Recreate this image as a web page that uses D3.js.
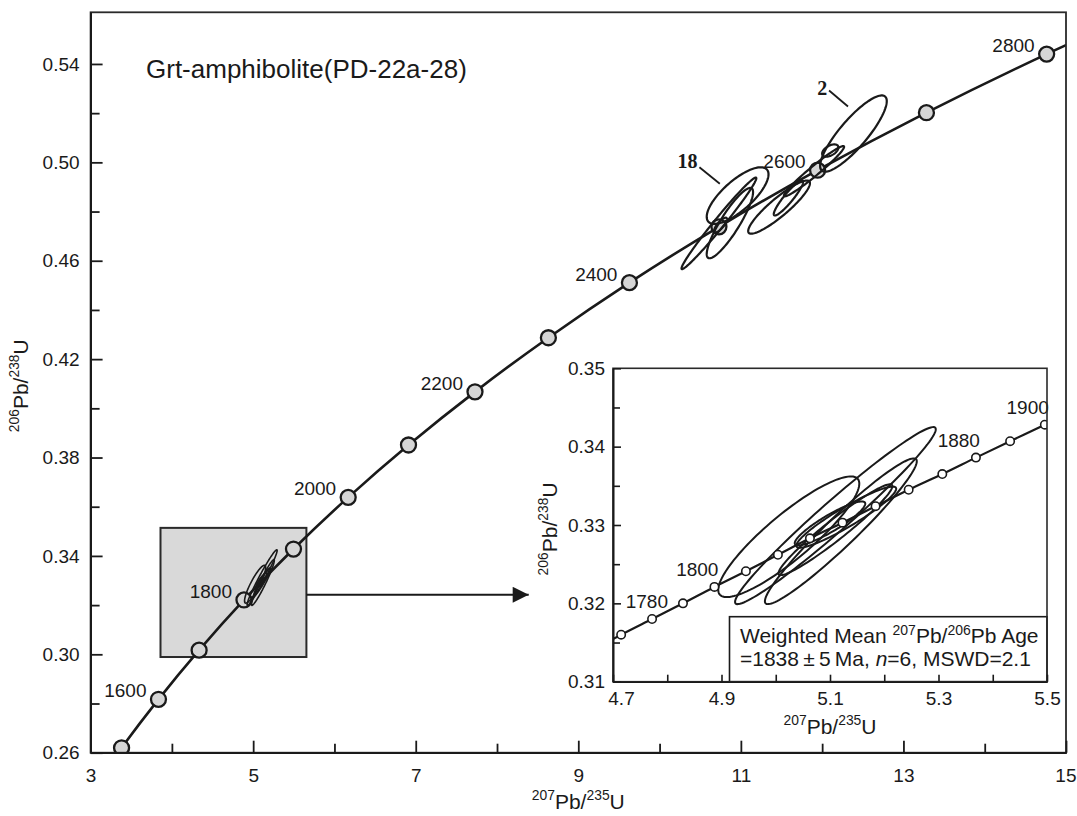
<!DOCTYPE html>
<html>
<head>
<meta charset="utf-8">
<script src="https://cdn.jsdelivr.net/npm/d3@7"></script>
<style>
  body { margin: 0; background: #fff; }
  text { font-family: "Liberation Sans", Arial, sans-serif; fill: #1a1a1a; }
</style>
</head>
<body>
<div id="chart-wrapper"></div>
<script>
// Concordia (main diagram): ages in Ma, 207Pb/235U and 206Pb/238U
let concAges = [1400, 1500, 1600, 1700, 1800, 1900, 2000, 2100, 2200, 2300, 2400, 2500, 2600, 2700, 2800, 2900]
let concX = [2.970, 3.381, 3.835, 4.335, 4.887, 5.496, 6.169, 6.911, 7.729, 8.632, 9.629, 10.730, 11.944, 13.283, 14.762, 16.393]
let concY = [0.2426, 0.2620, 0.2817, 0.3017, 0.3221, 0.3428, 0.3638, 0.3851, 0.4067, 0.4287, 0.4511, 0.4738, 0.4968, 0.5202, 0.5440, 0.5681]
let concLabelAges = [1600, 1800, 2000, 2200, 2400, 2600, 2800]

// Concordia (inset)
let insetAges = [1760, 1770, 1780, 1790, 1800, 1810, 1820, 1830, 1840, 1850, 1860, 1870, 1880, 1890, 1900]
let insetX = [4.659, 4.715, 4.772, 4.829, 4.887, 4.945, 5.004, 5.063, 5.123, 5.184, 5.245, 5.307, 5.369, 5.432, 5.496]
let insetY = [0.3139, 0.3160, 0.3180, 0.3200, 0.3221, 0.3241, 0.3262, 0.3283, 0.3303, 0.3324, 0.3345, 0.3365, 0.3386, 0.3407, 0.3428]
let insetLabelAges = [1780, 1800, 1880, 1900]

// Concordant spots (~1838 Ma): centre, sigma x, sigma y, error correlation
let spotX = [5.024, 5.110, 5.120, 5.130, 5.100, 5.110]
let spotY = [0.3285, 0.3312, 0.3292, 0.3310, 0.3302, 0.3294]
let spotSx = [0.130, 0.185, 0.140, 0.092, 0.065, 0.105]
let spotSy = [0.0077, 0.0113, 0.0093, 0.0039, 0.0028, 0.0058]
let spotRho = [0.88, 0.975, 0.96, 0.93, 0.90, 0.96]

// Older discordant grains (~2500-2600 Ma)
let oldX = [12.385, 10.96, 10.73, 10.865, 11.47, 11.585, 11.90, 12.10, 10.75]
let oldY = [0.5117, 0.4865, 0.4752, 0.4753, 0.4818, 0.4855, 0.4964, 0.5048, 0.4745]
let oldSx = [0.41, 0.38, 0.46, 0.285, 0.38, 0.18, 0.37, 0.10, 0.08]
let oldSy = [0.0155, 0.0115, 0.0186, 0.0143, 0.0108, 0.0071, 0.0102, 0.0025, 0.003]
let oldRho = [0.85, 0.75, 0.985, 0.88, 0.90, 0.92, 0.97, 0.5, 0.8]

// Spot labels with leader lines (data coords)
let annText = ["18", "2"]
let annAt = [[10.342, 0.4975], [12.0, 0.5275]]
let annFrom = [[10.49, 0.4980], [12.085, 0.5292]]
let annTo = [[10.741, 0.4913], [12.318, 0.5227]]

// Zoom box and arrow
let boxX = [3.86, 5.655]
let boxY = [0.2989, 0.3514]
let arrowX = [5.655, 8.39]
let arrowY = 0.3242

// Ticks
let xMajor = [3, 5, 7, 9, 11, 13, 15]
let xMinor = [4, 6, 8, 10, 12, 14]
let yMajor = [0.26, 0.30, 0.34, 0.38, 0.42, 0.46, 0.50, 0.54]
let yMinor = [0.28, 0.32, 0.36, 0.40, 0.44, 0.48, 0.52]
let ixTicks = [4.7, 4.8, 4.9, 5.0, 5.1, 5.2, 5.3, 5.4, 5.5]
let ixLabels = [4.7, 4.9, 5.1, 5.3, 5.5]
let iyMajor = [0.31, 0.32, 0.33, 0.34, 0.35]
let iyMinor = [0.315, 0.325, 0.335, 0.345]

const width = 1077
const height = 816
const ink = "#1a1a1a"

const svg = d3.select("#chart-wrapper").append("svg")
  .attr("width", width).attr("height", height)

const defs = svg.append("defs")
defs.append("marker").attr("id", "arrowHead")
  .attr("viewBox", "0 0 10 10").attr("refX", 10).attr("refY", 5)
  .attr("markerWidth", 11).attr("markerHeight", 8).attr("markerUnits", "strokeWidth")
  .attr("orient", "auto")
  .append("path").attr("d", "M0,0 L10,5 L0,10 Z").attr("fill", ink)

// Scales
const x = d3.scaleLinear().domain([3, 15]).range([90.6, 1066])
const y = d3.scaleLinear().domain([0.26, 0.561]).range([752.7, 12.3])
const xi = d3.scaleLinear().domain([4.7, 5.5]).range([613, 1047])
const yi = d3.scaleLinear().domain([0.31, 0.35]).range([681.7, 368.3])

defs.append("clipPath").attr("id", "mainClip").append("rect")
  .attr("x", x(3)).attr("y", y(0.561)).attr("width", x(15) - x(3)).attr("height", y(0.26) - y(0.561))
defs.append("clipPath").attr("id", "insetClip").append("rect")
  .attr("x", xi(4.7)).attr("y", yi(0.35)).attr("width", xi(5.5) - xi(4.7)).attr("height", yi(0.31) - yi(0.35))

// Ellipse outline from centre, sigmas and correlation
const ellipsePath = (sx, sy, cx, cy, ex, ey, rho) => {
  const pts = d3.range(0, 120).map(i => {
    const t = i / 120 * 2 * Math.PI
    return [sx(cx + ex * Math.cos(t)), sy(cy + ey * (rho * Math.cos(t) + Math.sqrt(1 - rho * rho) * Math.sin(t)))]
  })
  return d3.line().curve(d3.curveLinearClosed)(pts)
}

// Isotope ratio label, e.g. 206Pb/238U
const ratioLabel = (sel, top, bottom, size) => {
  const sup = size * 0.66
  sel.attr("font-size", size)
  sel.append("tspan").attr("font-size", sup).attr("dy", -size * 0.42).text(top)
  sel.append("tspan").attr("dy", size * 0.42).text("Pb/")
  sel.append("tspan").attr("font-size", sup).attr("dy", -size * 0.42).text(bottom)
  sel.append("tspan").attr("dy", size * 0.42).text("U")
  return sel
}

const styleAxis = (g, fontSize) => {
  g.selectAll("path").attr("stroke", ink).attr("stroke-width", 1.8)
  g.selectAll("line").attr("stroke", ink).attr("stroke-width", 1.8)
  g.selectAll("text").attr("font-size", fontSize).attr("fill", ink)
    .attr("font-family", "Liberation Sans, Arial, sans-serif")
}

// ---------- Main diagram ----------
const main = svg.append("g")
const plot = main.append("g").attr("clip-path", "url(#mainClip)")

// zoom box
plot.append("rect")
  .attr("x", x(boxX[0])).attr("y", y(boxY[1]))
  .attr("width", x(boxX[1]) - x(boxX[0])).attr("height", y(boxY[0]) - y(boxY[1]))
  .attr("fill", "#d9d9d9").attr("stroke", "#2a2a2a").attr("stroke-width", 2)

const concData = concAges.map((a, i) => ({age: a, x: concX[i], y: concY[i]}))
plot.append("path").datum(concData)
  .attr("d", d3.line().x(d => x(d.x)).y(d => y(d.y)).curve(d3.curveCatmullRom))
  .attr("fill", "none").attr("stroke", ink).attr("stroke-width", 2.6)

plot.selectAll("circle.age").data(concData.filter(d => d.x >= 3 && d.x <= 15 && d.y >= 0.26))
  .join("circle").attr("class", "age")
  .attr("cx", d => x(d.x)).attr("cy", d => y(d.y)).attr("r", 7.5)
  .attr("fill", "#d6d6d6").attr("stroke", ink).attr("stroke-width", 2.3)

// ellipses of the young spots on the main diagram
spotX.forEach((cx, i) => {
  plot.append("path")
    .attr("d", ellipsePath(x, y, cx, spotY[i], spotSx[i], spotSy[i], spotRho[i]))
    .attr("fill", "none").attr("stroke", ink).attr("stroke-width", 1.6)
})
// older grains
oldX.forEach((cx, i) => {
  plot.append("path")
    .attr("d", ellipsePath(x, y, cx, oldY[i], oldSx[i], oldSy[i], oldRho[i]))
    .attr("fill", "none").attr("stroke", ink).attr("stroke-width", 2.2)
})

// age labels
main.selectAll("text.age").data(concData.filter(d => concLabelAges.includes(d.age)))
  .join("text").attr("class", "age")
  .attr("x", d => x(d.x) - 12).attr("y", d => y(d.y) - 2)
  .attr("text-anchor", "end").attr("font-size", 19).text(d => d.age)

// spot annotations
annText.forEach((t, i) => {
  main.append("line")
    .attr("x1", x(annFrom[i][0])).attr("y1", y(annFrom[i][1]))
    .attr("x2", x(annTo[i][0])).attr("y2", y(annTo[i][1]))
    .attr("stroke", ink).attr("stroke-width", 1.8)
  main.append("text").attr("x", x(annAt[i][0])).attr("y", y(annAt[i][1]))
    .attr("text-anchor", "middle")
    .style("font-family", "'Liberation Serif', 'Times New Roman', serif")
    .attr("font-weight", "bold").attr("font-size", 20).text(t)
})

// arrow
main.append("line")
  .attr("x1", x(arrowX[0])).attr("y1", y(arrowY))
  .attr("x2", x(arrowX[1])).attr("y2", y(arrowY))
  .attr("stroke", ink).attr("stroke-width", 2).attr("marker-end", "url(#arrowHead)")

// frame
main.append("rect")
  .attr("x", x(3)).attr("y", y(0.561)).attr("width", x(15) - x(3)).attr("height", y(0.26) - y(0.561))
  .attr("fill", "none").attr("stroke", "#2a2a2a").attr("stroke-width", 1.8)

// axes
const gx = main.append("g").attr("transform", `translate(0,${y(0.26)})`)
  .call(d3.axisBottom(x).tickValues(xMajor).tickSizeInner(-12).tickSizeOuter(0).tickPadding(16).tickFormat(d3.format("d")))
styleAxis(gx, 19)
// keep the last label inside the window
gx.selectAll(".tick text").filter(d => d === 15).attr("text-anchor", "end").attr("dx", 10)
const gxm = main.append("g").attr("transform", `translate(0,${y(0.26)})`)
  .call(d3.axisBottom(x).tickValues(xMinor).tickSizeInner(-9).tickSizeOuter(0).tickFormat(""))
styleAxis(gxm, 19)
const gy = main.append("g").attr("transform", `translate(${x(3)},0)`)
  .call(d3.axisLeft(y).tickValues(yMajor).tickSizeInner(-12).tickSizeOuter(0).tickPadding(11).tickFormat(d3.format(".2f")))
styleAxis(gy, 19)
const gym = main.append("g").attr("transform", `translate(${x(3)},0)`)
  .call(d3.axisLeft(y).tickValues(yMinor).tickSizeInner(-9).tickSizeOuter(0).tickFormat(""))
styleAxis(gym, 19)

// title
main.append("text").attr("x", 146).attr("y", 78).attr("font-size", 26).text("Grt-amphibolite(PD-22a-28)")

// axis titles
ratioLabel(main.append("text").attr("text-anchor", "middle")
  .attr("x", (x(3) + x(15)) / 2).attr("y", 809), "207", "235", 21)
ratioLabel(main.append("text").attr("text-anchor", "middle")
  .attr("transform", `translate(28,${(y(0.40) + y(0.42)) / 2 + 2}) rotate(-90)`), "206", "238", 21)

// ---------- Inset ----------
const inset = svg.append("g")
inset.append("rect")
  .attr("x", xi(4.7)).attr("y", yi(0.35)).attr("width", xi(5.5) - xi(4.7)).attr("height", yi(0.31) - yi(0.35))
  .attr("fill", "#fff")
const iplot = inset.append("g").attr("clip-path", "url(#insetClip)")

const insetData = insetAges.map((a, i) => ({age: a, x: insetX[i], y: insetY[i]}))
iplot.append("path").datum(insetData)
  .attr("d", d3.line().x(d => xi(d.x)).y(d => yi(d.y)).curve(d3.curveCatmullRom))
  .attr("fill", "none").attr("stroke", ink).attr("stroke-width", 2.2)

spotX.forEach((cx, i) => {
  iplot.append("path")
    .attr("d", ellipsePath(xi, yi, cx, spotY[i], spotSx[i], spotSy[i], spotRho[i]))
    .attr("fill", "none").attr("stroke", ink).attr("stroke-width", 2)
})

iplot.selectAll("circle").data(insetData.filter(d => d.x >= 4.7))
  .join("circle")
  .attr("cx", d => xi(d.x)).attr("cy", d => yi(d.y)).attr("r", 4.2)
  .attr("fill", "#fff").attr("stroke", ink).attr("stroke-width", 1.6)

inset.selectAll("text.age").data(insetData.filter(d => insetLabelAges.includes(d.age)))
  .join("text").attr("class", "age")
  .attr("x", d => Math.max(xi(d.x) + 4, xi(4.7) + 55)).attr("y", d => yi(d.y) - 11)
  .attr("text-anchor", "end").attr("font-size", 19).text(d => d.age)

// legend box
const lg = inset.append("g")
lg.append("rect").attr("x", 729.5).attr("y", 616.7).attr("width", xi(5.5) - 729.5).attr("height", yi(0.31) - 616.7)
  .attr("fill", "#fff").attr("stroke", ink).attr("stroke-width", 1.6)
const l1 = lg.append("text").attr("x", 740).attr("y", 643).attr("font-size", 21)
l1.append("tspan").text("Weighted Mean ")
l1.append("tspan").attr("font-size", 14).attr("dy", -8).text("207")
l1.append("tspan").attr("dy", 8).text("Pb/")
l1.append("tspan").attr("font-size", 14).attr("dy", -8).text("206")
l1.append("tspan").attr("dy", 8).text("Pb Age")
const l2 = lg.append("text").attr("x", 740).attr("y", 666).attr("font-size", 21)
l2.append("tspan").text("=1838\u2009\u00b1\u20095\u2009Ma, ")
l2.append("tspan").attr("font-style", "italic").text("n")
l2.append("tspan").text("=6, MSWD=2.1")

// inset frame and axes
inset.append("rect")
  .attr("x", xi(4.7)).attr("y", yi(0.35)).attr("width", xi(5.5) - xi(4.7)).attr("height", yi(0.31) - yi(0.35))
  .attr("fill", "none").attr("stroke", "#2a2a2a").attr("stroke-width", 1.6)
const igx = inset.append("g").attr("transform", `translate(0,${yi(0.31)})`)
  .call(d3.axisBottom(xi).tickValues(ixTicks).tickSizeInner(-7).tickSizeOuter(0).tickPadding(10)
    .tickFormat(d => ixLabels.some(v => Math.abs(v - d) < 1e-9) ? d3.format(".1f")(d) : ""))
styleAxis(igx, 19)
igx.selectAll("path,line").attr("stroke-width", 1.6)
// first label sits just inside the axis start
igx.selectAll(".tick text").filter(d => Math.abs(d - 4.7) < 1e-9).attr("dx", 8)
const igy = inset.append("g").attr("transform", `translate(${xi(4.7)},0)`)
  .call(d3.axisLeft(yi).tickValues(iyMajor).tickSizeInner(-8).tickSizeOuter(0).tickPadding(8).tickFormat(d3.format(".2f")))
styleAxis(igy, 19)
igy.selectAll("path,line").attr("stroke-width", 1.6)
const igym = inset.append("g").attr("transform", `translate(${xi(4.7)},0)`)
  .call(d3.axisLeft(yi).tickValues(iyMinor).tickSizeInner(-7).tickSizeOuter(0).tickFormat(""))
styleAxis(igym, 19)
igym.selectAll("path,line").attr("stroke-width", 1.6)

ratioLabel(inset.append("text").attr("text-anchor", "middle")
  .attr("x", xi(5.1)).attr("y", 734), "207", "235", 21)
ratioLabel(inset.append("text").attr("text-anchor", "middle")
  .attr("transform", `translate(557,${yi(0.3295)}) rotate(-90)`), "206", "238", 21)
</script>
</body>
</html>
